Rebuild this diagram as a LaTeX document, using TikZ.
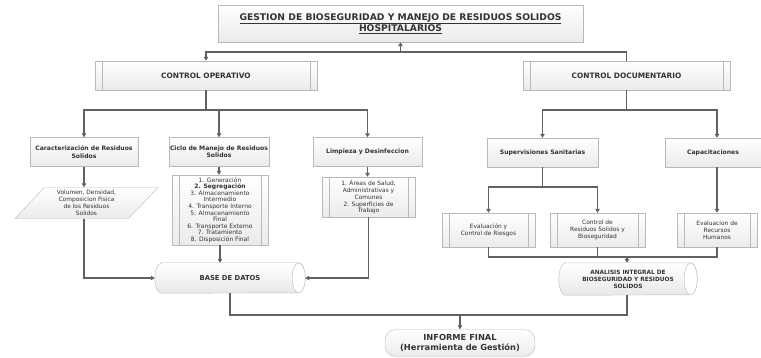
\documentclass[tikz,border=0pt]{standalone}
\usepackage{fontspec}
\setmainfont{DejaVu Sans}
\usetikzlibrary{shapes.geometric,arrows.meta,calc,backgrounds}
\tikzset{
  base/.style={draw=gray!55, top color=white, bottom color=gray!16, inner sep=1pt, align=center,
    text=black!80, font=\fontsize{5.9}{6.9}\selectfont},
  plainbox/.style={base, rectangle},
  bhead/.style={font=\bfseries\fontsize{6.1}{7.4}\selectfont},
  pproc/.style={base, rectangle, path picture={
      \draw[gray!55] ([xshift=7pt]path picture bounding box.north west) -- ([xshift=7pt]path picture bounding box.south west);
      \draw[gray!55] ([xshift=-7pt]path picture bounding box.north east) -- ([xshift=-7pt]path picture bounding box.south east);}},
  cylnode/.style={rectangle, inner sep=1pt, align=center, text=black!80, font=\bfseries\fontsize{5.8}{6.9}\selectfont},
  cylfill/.style={draw=gray!55, top color=white, bottom color=gray!18},
  conn/.style={draw=black!62, line width=1.1pt},
  arr/.style={conn, -{Triangle[length=4pt,width=4.5pt]}},
}
% horizontal cylinder drawn around a node: #1 node name, #2 end x-radius, #3 half height
\newcommand{\mycyl}[3]{%
  \begin{pgfonlayer}{background}
  \path[cylfill] ([xshift=#2]#1.north west) -- ([xshift=-#2]#1.north east)
    arc[start angle=90, end angle=-90, x radius=#2, y radius=#3]
    -- ([xshift=#2]#1.south west)
    arc[start angle=-90, end angle=-270, x radius=#2, y radius=#3] -- cycle;
  \path[draw=gray!55, fill=white] ([xshift=-#2]#1.east) ellipse[x radius=#2, y radius=#3];
  \end{pgfonlayer}}
\begin{document}
\begin{tikzpicture}[x=1pt,y=-1pt]
\useasboundingbox (0,0) rectangle (761,358);
% title
\node[plainbox, minimum width=365pt, minimum height=37pt, font=\bfseries\fontsize{9.2}{11}\selectfont] (title) at (400.5,23.5)
  {\underline{GESTION DE BIOSEGURIDAD Y MANEJO DE RESIDUOS SOLIDOS}\\\underline{HOSPITALARIOS}};
% level 1
\node[pproc, minimum width=222pt, minimum height=29pt, font=\bfseries\fontsize{7.4}{8.5}\selectfont] (co) at (206,75.5) {CONTROL OPERATIVO};
\node[pproc, minimum width=207pt, minimum height=29pt, font=\bfseries\fontsize{7.4}{8.5}\selectfont] (cd) at (626.5,75.5) {CONTROL DOCUMENTARIO};
% left column boxes
\node[plainbox, bhead, minimum width=108pt, minimum height=29pt] (car) at (84,152) {Caracterización de Residuos\\Solidos};
\node[plainbox, bhead, minimum width=96pt, minimum height=29pt] (ciclo) at (219,152) {Ciclo de Manejo de Residuos\\Solidos};
\node[plainbox, bhead, minimum width=109pt, minimum height=29pt] (limp) at (367.5,152) {Limpieza y Desinfeccion};
\node[base, trapezium, trapezium left angle=52, trapezium right angle=128, trapezium stretches=true,
  minimum width=143pt, minimum height=31pt] (para) at (86.5,203)
  {Volumen, Densidad,\\Composicion Fisica\\de los Residuos\\Solidos};
\node[pproc, minimum width=96pt, minimum height=70pt, font=\fontsize{6}{6.6}\selectfont] (list1) at (220,210)
  {1. Generación\\\textbf{2. Segregación}\\3. Almacenamiento\\Intermedio\\4. Transporte Interno\\5. Almacenamiento\\Final\\6. Transporte Externo\\7. Tratamiento\\8. Disposición Final};
\node[pproc, minimum width=93pt, minimum height=40pt] (list2) at (368.5,197)
  {1. Áreas de Salud,\\Administrativas y\\Comunes\\2. Superficies de\\Trabajo};
\node[cylnode, minimum width=150pt, minimum height=30pt, font=\bfseries\fontsize{6.8}{8}\selectfont] (bd) at (230,278) {BASE DE DATOS};
\mycyl{bd}{6.5pt}{15pt}
% right column boxes
\node[plainbox, bhead, minimum width=111pt, minimum height=29pt] (sup) at (542.5,152.5) {Supervisiones Sanitarias};
\node[plainbox, bhead, minimum width=96pt, minimum height=29pt] (cap) at (713,152.5) {Capacitaciones};
\node[pproc, minimum width=93pt, minimum height=34pt] (ev1) at (488.5,230) {Evaluación y\\Control de Riesgos};
\node[pproc, minimum width=95pt, minimum height=34pt] (ev2) at (597.5,230) {Control de\\Residuos Solidos y\\Bioseguridad};
\node[pproc, minimum width=80pt, minimum height=34pt] (ev3) at (717,230) {Evaluacion de\\Recursos\\Humanos};
\node[cylnode, minimum width=138pt, minimum height=32pt] (an) at (628,279) {ANALISIS INTEGRAL DE\\BIOSEGURIDAD Y RESIDUOS\\SOLIDOS};
\mycyl{an}{6.5pt}{16pt}
% final
\node[base, rectangle, rounded corners=11pt, minimum width=150pt, minimum height=27pt, font=\bfseries\fontsize{8.3}{9.8}\selectfont] (inf) at (460,343)
  {INFORME FINAL\\(Herramienta de Gestión)};
% connectors top
\coordinate (tj) at (400.5,52);
\draw[arr] (tj) -- (title.south);
\draw[arr] (tj) -| (co.north);
\draw[conn] (tj) -| (cd.north);
% left
\coordinate (lj) at (206,110);
\draw[conn] (co.south) -- (lj);
\draw[arr] (lj) -| (car.north);
\draw[arr] (lj) -| (ciclo.north);
\draw[arr] (lj) -| (limp.north);
\draw[arr] (car.south) -- (car.south |- para.north);
\draw[arr] (ciclo.south) -- (ciclo.south |- list1.north);
\draw[arr] (limp.south) -- (limp.south |- list2.north);
\draw[arr] (car.south |- para.south) |- (bd.west);
\draw[arr] (list1.south) -- (list1.south |- bd.north);
\draw[arr] (list2.south) |- (bd.east);
% right
\coordinate (rj) at (626.5,110);
\draw[conn] (cd.south) -- (rj);
\draw[arr] (rj) -| (sup.north);
\draw[arr] (rj) -| (ev3.north |- cap.north);
\coordinate (sj) at (542.5,187);
\draw[conn] (sup.south) -- (sj);
\draw[arr] (sj) -| (ev1.north);
\draw[arr] (sj) -| (ev2.north);
\draw[arr] (ev3.north |- cap.south) -- (ev3.north);
\coordinate (ej) at (627,257);
\draw[conn] (ev1.south) |- (ev3.south |- ej) -- (ev3.south);
\draw[conn] (ev2.south) -- (ev2.south |- ej);
\draw[arr] (ej) -- (ej |- an.north);
% bottom
\coordinate (bj) at (460,315);
\draw[conn] (bd.south) |- (bj);
\draw[conn] (ej |- an.south) |- (bj);
\draw[arr] (bj) -- (inf.north);
\end{tikzpicture}
\end{document}
